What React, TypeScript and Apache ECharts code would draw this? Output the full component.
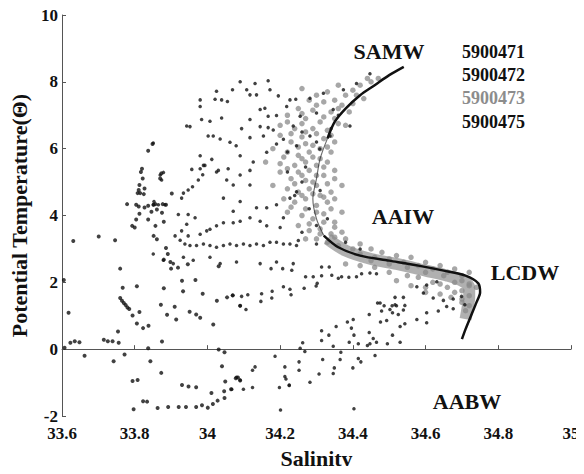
import React, { useEffect, useRef } from "react";
import * as echarts from "echarts";

const xTicks = { min: 33.6, max: 35, interval: 0.2 };
const yTicks = { min: -2, max: 10, interval: 2 };

const floatIds = ["5900471", "5900472", "5900473", "5900475"];
const floatColors = ["#111111", "#111111", "#8c8c8c", "#111111"];

const waterMasses = ["SAMW", "AAIW", "LCDW", "AABW"];

// 5900471: scattered profiles on the fresh (left) side and deep branch
const pts471: [number, number][] = [
  [33.76, 2.41], [33.767, 1.84], [33.806, 1.88], [33.76, 1.53], [33.765, 1.45], [33.77, 1.38],
  [33.775, 1.32], [33.78, 1.25], [33.785, 1.2], [33.794, 1.01], [33.813, 1.11], [33.806, 0.77],
  [33.823, 0.63], [33.838, 0.7], [33.88, 1.82], [33.933, 1.73], [33.872, 1.33], [33.91, 1.27],
  [33.914, 0.89], [33.889, 1.03], [33.951, 1.12], [33.969, 1.04], [33.98, 0.94], [33.987, 1.66],
  [34.026, 1.45], [34.054, 1.55], [34.07, 1.61], [34.09, 1.3], [34.016, 0.74], [33.967, 2.07],
  [33.93, 2.05], [33.919, 2.44], [33.9, 2.41], [33.946, 2.54], [34.031, 2.48], [33.618, 1.09],
  [33.605, 2.07], [33.754, 0.53], [33.715, 0.28], [33.726, 0.24], [33.739, 0.24], [33.756, 0.19],
  [33.623, 0.19], [33.635, 0.24], [33.648, 0.21], [33.607, 0.04], [33.662, -0.2], [33.772, -0.16],
  [33.742, -0.36], [33.837, 0.03], [33.843, -0.36], [33.875, 0.23], [33.873, -0.71], [33.794, -0.95],
  [33.808, -0.92], [33.823, -1.56], [33.834, -1.57], [33.797, -1.8], [33.863, -1.76], [33.892, -1.73],
  [33.921, -1.73], [33.941, -1.73], [33.969, -1.73], [33.985, -1.68], [34.001, -1.75], [34.015, -1.64],
  [34.028, -1.54], [34.011, -1.31], [34.047, -1.46], [34.046, -1.26], [34.065, -1.2], [33.93, -1.07],
  [33.948, -1.12], [33.969, -1.14], [34.049, -0.97], [34.084, -0.85], [34.031, -0.01], [34.047, -0.09],
  [34.04, -0.51], [34.078, -0.87], [34.09, -0.94], [33.631, 3.24], [33.701, 3.37], [33.746, 3.26],
  [33.849, 6.14], [33.837, 5.94], [33.82, 5.4], [33.817, 5.3], [33.873, 5.26], [33.87, 5.11],
  [33.822, 5.11], [33.813, 4.91], [33.811, 4.76], [33.827, 4.81], [33.815, 4.67], [33.825, 4.64],
  [33.808, 4.67], [33.779, 4.34], [33.804, 4.32], [33.811, 4.27], [33.827, 4.24], [33.837, 4.29],
  [33.852, 4.32], [33.857, 4.34], [33.877, 4.34], [33.886, 4.32], [33.813, 4.05], [33.804, 3.88],
  [33.793, 3.69], [33.8, 3.64], [33.837, 3.88], [33.846, 4.11], [33.861, 4.18], [33.875, 4.08],
  [33.88, 3.81], [33.902, 4.66], [33.857, 3.69], [33.852, 3.39], [33.861, 3.29], [33.886, 3.03],
  [33.891, 2.85], [33.88, 2.68], [33.898, 2.61],
];

// 5900472: core of the T-S curve (upper limb, middle, deep limb)
const core472Upper: [number, number][] = [
  [34.54, 8.45], [34.5, 8.2], [34.46, 7.9], [34.42, 7.6], [34.38, 7.2], [34.35, 6.8], [34.33, 6.3],
];
const core472Middle: [number, number][] = [
  [34.33, 6.3], [34.31, 5.7], [34.3, 5.1], [34.29, 4.5], [34.3, 3.9], [34.32, 3.4],
];
const core472Lower: [number, number][] = [
  [34.32, 3.4], [34.36, 3.05], [34.42, 2.8], [34.5, 2.65], [34.58, 2.5], [34.65, 2.35],
  [34.71, 2.2], [34.745, 1.97], [34.75, 1.7], [34.74, 1.4], [34.725, 1.0], [34.71, 0.6], [34.7, 0.3],
];
const band473: [number, number][] = [
  [34.33, 3.3], [34.38, 2.95], [34.45, 2.7], [34.52, 2.55], [34.6, 2.35], [34.66, 2.2],
  [34.7, 2.05], [34.72, 1.85], [34.72, 1.55], [34.715, 1.2], [34.71, 0.9],
];

// 5900473: grey cloud of the upper water column
const pts473: [number, number][] = [
  [34.36, 7.9], [34.4, 7.75], [34.42, 7.9], [34.45, 8.0], [34.38, 7.6], [34.33, 7.7], [34.3, 7.6],
  [34.26, 7.8], [34.28, 7.45], [34.25, 7.2], [34.3, 7.3], [34.34, 7.1], [34.37, 7.3], [34.4, 7.35],
  [34.22, 7.0], [34.27, 6.9], [34.31, 6.8], [34.35, 6.9], [34.2, 6.7], [34.24, 6.6], [34.29, 6.6],
  [34.33, 6.55], [34.38, 6.7], [34.2, 6.4], [34.23, 6.2], [34.26, 6.35], [34.29, 6.1], [34.32, 6.3],
  [34.35, 6.2], [34.18, 6.0], [34.22, 5.9], [34.25, 5.8], [34.28, 5.9], [34.31, 5.7], [34.34, 5.9],
  [34.16, 5.6], [34.2, 5.55], [34.24, 5.5], [34.27, 5.6], [34.3, 5.5], [34.33, 5.6], [34.2, 5.3],
  [34.23, 5.1], [34.26, 5.2], [34.29, 5.0], [34.32, 5.2], [34.35, 5.1], [34.18, 4.9], [34.22, 4.8],
  [34.25, 4.7], [34.28, 4.8], [34.31, 4.6], [34.34, 4.7], [34.37, 4.9], [34.21, 4.5], [34.24, 4.4],
  [34.27, 4.5], [34.3, 4.3], [34.33, 4.4], [34.22, 4.1], [34.26, 4.0], [34.29, 3.9], [34.32, 4.05],
  [34.35, 3.8], [34.25, 3.7], [34.28, 3.55], [34.31, 3.6], [34.34, 3.45], [34.37, 3.5], [34.3, 3.3],
  [34.33, 3.2], [34.36, 3.1], [34.4, 3.0], [34.27, 3.3], [34.42, 2.85], [34.46, 2.75], [34.5, 2.7],
  [34.54, 2.6], [34.58, 2.5], [34.62, 2.4], [34.66, 2.3], [34.7, 2.2], [34.45, 2.65], [34.5, 2.55],
  [34.55, 2.45], [34.6, 2.3], [34.65, 2.2], [34.7, 2.05], [34.72, 1.9], [34.7, 1.75], [34.72, 1.6],
  [34.7, 1.5], [34.68, 1.7], [34.66, 1.85], [34.62, 2.0], [34.58, 2.15],
  [34.44, 8.1], [34.47, 8.1], [34.41, 7.6], [34.43, 7.5], [34.35, 7.45], [34.32, 7.4], [34.36, 7.2],
  [34.39, 7.1], [34.29, 7.15], [34.26, 7.05], [34.32, 6.95], [34.36, 6.75], [34.26, 6.75], [34.22, 6.8],
  [34.3, 6.45], [34.34, 6.4], [34.27, 6.5], [34.23, 6.45], [34.25, 6.05], [34.27, 6.15], [34.31, 6.0],
  [34.33, 6.05], [34.21, 5.75], [34.26, 5.7], [34.29, 5.75], [34.32, 5.45], [34.35, 5.35], [34.22, 5.4],
  [34.25, 5.3], [34.28, 5.35], [34.3, 5.2], [34.24, 4.95], [34.27, 5.05], [34.3, 4.9], [34.33, 4.95],
  [34.26, 4.6], [34.29, 4.65], [34.32, 4.55], [34.35, 4.5], [34.23, 4.25], [34.27, 4.2], [34.3, 4.1],
  [34.34, 4.2], [34.37, 4.1], [34.28, 3.75], [34.32, 3.8], [34.35, 3.65], [34.38, 3.3], [34.35, 3.35],
  [34.31, 3.45], [34.42, 3.15], [34.45, 3.0], [34.48, 2.9], [34.52, 2.8], [34.56, 2.75], [34.6, 2.6],
  [34.64, 2.5], [34.68, 2.4], [34.72, 2.3], [34.6, 1.85], [34.64, 1.95], [34.68, 2.0], [34.72, 1.95],
  [34.74, 1.85], [34.64, 1.65], [34.67, 1.55], [34.7, 1.4], [34.72, 1.3], [34.71, 1.15], [34.6, 1.7],
  [34.56, 1.9], [34.52, 2.05], [34.55, 2.2], [34.5, 2.3], [34.46, 2.45], [34.42, 2.5], [34.38, 2.55],
];

// 5900475: intermediate layer near 3 degrees, upper cloud and the deep spreading branch
const pts475: [number, number][] = [
  [33.911, 3.39], [33.925, 3.26], [33.938, 3.15], [33.952, 3.1], [33.97, 3.1], [33.989, 3.15],
  [34.007, 3.1], [34.025, 3.05], [34.044, 3.1], [34.062, 3.15], [34.08, 3.1], [34.099, 3.15],
  [34.117, 3.1], [34.135, 3.15], [34.154, 3.1], [34.172, 3.2], [34.19, 3.2], [34.209, 3.15],
  [34.227, 3.15], [34.245, 3.1], [34.007, 3.59], [34.025, 3.69], [34.044, 3.78], [34.071, 3.78],
  [34.09, 3.83], [34.117, 3.93], [34.145, 3.83], [34.163, 3.69], [34.2, 3.64], [34.209, 3.93],
  [34.071, 4.13], [34.044, 4.52], [34.09, 4.42], [34.135, 4.23], [34.163, 4.23], [34.19, 4.32],
  [34.227, 4.52], [34.245, 4.71], [34.117, 4.91], [34.071, 4.91], [34.09, 5.21], [34.025, 5.3],
  [34.053, 5.06], [33.851, 2.85], [33.879, 2.66], [33.906, 2.56], [33.934, 2.75], [33.961, 2.66],
  [34.007, 2.75], [34.035, 2.56], [34.08, 2.61], [34.145, 2.56], [34.19, 2.61], [34.236, 2.56],
  [33.87, 5.21], [33.874, 5.06], [33.934, 4.67], [33.947, 4.76], [33.959, 4.86], [33.929, 4.52],
  [33.98, 5.4], [33.987, 5.22], [33.993, 5.5], [33.957, 5.38], [33.975, 5.06], [33.851, 4.32],
  [33.865, 4.32], [33.883, 4.32], [33.853, 4.42], [33.92, 4.03], [33.947, 4.03], [33.966, 3.93],
  [33.943, 3.74], [33.929, 3.54], [33.947, 3.39], [33.98, 3.44], [33.998, 3.54],
  [34.09, 8.0], [34.131, 7.95], [34.167, 8.03], [34.172, 7.76], [34.195, 7.58], [34.069, 7.76],
  [34.108, 7.76], [34.117, 7.61], [34.135, 7.61], [34.025, 7.72], [33.98, 7.46], [34.021, 7.48],
  [34.039, 7.46], [34.055, 7.41], [33.98, 7.26], [34.145, 7.17], [34.158, 7.21], [34.167, 6.97],
  [34.19, 6.99], [34.218, 7.26], [34.227, 7.46], [34.243, 7.48], [34.039, 6.92], [33.984, 6.87],
  [33.952, 6.66], [33.943, 6.68], [34.007, 6.82], [34.094, 6.6], [34.117, 6.87], [34.145, 6.66],
  [34.167, 6.63], [34.181, 6.56], [34.002, 6.38], [34.016, 6.38], [34.035, 6.29], [34.062, 6.19],
  [34.117, 6.33], [34.154, 6.38], [33.851, 6.17], [33.879, 5.29], [33.98, 5.79], [34.012, 5.68],
  [33.989, 5.5], [34.03, 5.35], [34.057, 5.4], [34.079, 6.09], [34.09, 5.79], [34.126, 5.6],
  [34.117, 5.35], [34.163, 5.89], [34.19, 6.14], [34.209, 6.28], [34.236, 6.68],
  [34.282, 7.51], [34.319, 7.66], [34.374, 7.76], [34.41, 7.95], [34.447, 8.24], [34.255, 6.97],
  [34.3, 7.07], [34.346, 7.17], [34.392, 6.68], [34.337, 6.38], [34.282, 6.38], [34.245, 6.09],
  [34.309, 5.99], [34.22, 5.3], [34.26, 5.0], [34.24, 4.6], [34.28, 4.2], [34.3, 3.7], [34.26, 3.5],
  [34.3, 6.2], [34.26, 6.5], [34.34, 6.6], [34.36, 7.0], [34.22, 5.9], [34.27, 5.45], [34.31, 4.75],
  [34.33, 3.9], [34.38, 3.2], [34.42, 3.0], [34.3, 3.15], [34.25, 3.25],
  [34.069, 1.61], [34.094, 1.58], [34.111, 1.63], [34.09, 1.3], [34.106, 1.19], [34.149, 1.66],
  [34.147, 1.43], [34.178, 1.73], [34.177, 1.53], [34.209, 1.87], [34.227, 1.79], [34.23, 1.63],
  [34.266, 1.82], [34.27, 2.17], [34.291, 2.17], [34.302, 1.97], [34.299, 1.89], [34.314, 2.2],
  [34.314, 2.46], [34.335, 2.46], [34.342, 2.21], [34.36, 2.12], [34.369, 2.17], [34.389, 2.15],
  [34.41, 2.17], [34.424, 2.26], [34.447, 2.28], [34.465, 2.26], [34.207, 2.41], [34.232, 2.36],
  [34.175, 2.41], [34.539, 1.55], [34.516, 1.55], [34.508, 1.3], [34.52, 1.3], [34.543, 1.31],
  [34.468, 1.38], [34.486, 1.3], [34.509, 1.09], [34.525, 1.04], [34.539, 1.17], [34.445, 1.04],
  [34.479, 1.14], [34.493, 0.86], [34.476, 0.81], [34.543, 0.76], [34.53, 0.68], [34.401, 0.89],
  [34.385, 0.81], [34.396, 0.63], [34.354, 0.68], [34.314, 0.55], [34.334, 0.42], [34.314, 0.26],
  [34.403, 0.42], [34.445, 0.5], [34.456, 0.32], [34.447, 0.16], [34.44, 0.11], [34.509, 0.42],
  [34.53, 0.21], [34.495, 0.16], [34.465, 0.21], [34.39, 0.21], [34.415, 0.16], [34.346, 0.09],
  [34.367, -0.09], [34.365, -0.31], [34.415, -0.28], [34.422, -0.38], [34.461, -0.19], [34.4, -0.56],
  [34.349, -0.56], [34.346, -0.73], [34.307, -0.74], [34.317, -0.31], [34.262, 0.19], [34.255, 0.03],
  [34.268, -0.07], [34.252, -0.38], [34.252, -0.63], [34.186, -0.21], [34.213, -0.53], [34.213, -0.82],
  [34.216, -0.89], [34.225, -1.07], [34.282, -0.99], [34.124, -0.63], [34.131, -0.53], [34.08, -0.84],
  [34.09, -0.92], [34.067, -1.2], [34.099, -1.2], [34.124, -1.15], [34.198, -1.15], [34.225, -1.09],
  [34.201, -1.82], [34.403, -1.78], [34.475, 1.38], [34.516, 1.33], [34.502, 1.19], [34.576, 1.87],
  [34.603, 1.92], [34.631, 2.02], [34.594, 1.68], [34.621, 1.53], [34.649, 1.46], [34.676, 1.5],
  [34.699, 1.58], [34.708, 1.33], [34.603, 1.09], [34.635, 1.14], [34.658, 1.28], [34.676, 1.21],
  [34.576, 0.89], [34.603, 0.79],
];

const labelSpots: [number, number][] = [
  [389, 51],
  [403, 216],
  [525, 272],
  [467, 401],
];
const legendTop = [52, 75, 98, 122];

export default function App() {
  const ref = useRef<HTMLDivElement>(null);
  useEffect(() => {
    if (!ref.current) return;
    const chart = echarts.init(ref.current, null, { renderer: "svg" });
    const serif = "'Liberation Serif', 'Times New Roman', serif";
    const graphics: any[] = [];
    waterMasses.forEach((w, i) => {
      graphics.push({
        type: "text",
        x: labelSpots[i][0],
        y: labelSpots[i][1],
        style: {
          text: w,
          font: `bold 22px ${serif}`,
          fill: "#111",
          align: "center",
          verticalAlign: "middle",
        },
      });
    });
    floatIds.forEach((id, i) => {
      graphics.push({
        type: "text",
        x: 462,
        y: legendTop[i],
        style: {
          text: id,
          font: `bold 18px ${serif}`,
          fill: floatColors[i],
          align: "left",
          verticalAlign: "middle",
        },
      });
    });
    const axisLine = { show: true, lineStyle: { color: "#555", width: 1 } };
    const coreLine = (data: [number, number][], width: number, opacity: number) => ({
      name: floatIds[1],
      type: "line",
      data,
      showSymbol: false,
      smooth: 0.3,
      lineStyle: { color: floatColors[1], width, opacity },
      z: 3,
    });
    chart.setOption({
      animation: false,
      backgroundColor: "#fff",
      grid: { left: 62, right: 13, top: 15, bottom: 51 },
      xAxis: {
        type: "value",
        min: xTicks.min,
        max: xTicks.max,
        interval: xTicks.interval,
        name: "Salinity",
        nameLocation: "middle",
        nameGap: 31,
        nameTextStyle: { fontFamily: serif, fontWeight: "bold", fontSize: 22, color: "#111" },
        axisLine,
        axisTick: { show: true, inside: true, length: 4, lineStyle: { color: "#555" } },
        splitLine: { show: false },
        axisLabel: {
          fontFamily: serif,
          fontWeight: "bold",
          fontSize: 17,
          lineHeight: 15,
          color: "#111",
          margin: 10,
        },
      },
      yAxis: {
        type: "value",
        min: yTicks.min,
        max: yTicks.max,
        interval: yTicks.interval,
        name: "Potential Temperature(Θ)",
        nameLocation: "middle",
        nameGap: 31,
        nameTextStyle: { fontFamily: serif, fontWeight: "bold", fontSize: 22, color: "#111" },
        axisLine,
        axisTick: { show: true, inside: true, length: 4, lineStyle: { color: "#555" } },
        splitLine: { show: false },
        axisLabel: {
          fontFamily: serif,
          fontWeight: "bold",
          fontSize: 17,
          lineHeight: 14,
          color: "#111",
          margin: 4,
        },
      },
      graphic: graphics,
      series: [
        {
          name: floatIds[2] + " band",
          type: "line",
          data: band473,
          showSymbol: false,
          smooth: 0.3,
          lineStyle: { color: "#8f8f8f", width: 12, opacity: 0.7 },
          z: 1,
        },
        {
          name: floatIds[2],
          type: "scatter",
          data: pts473,
          symbolSize: 5.5,
          itemStyle: { color: "#8a8a8a", opacity: 0.75 },
          z: 1,
        },
        {
          name: floatIds[0],
          type: "scatter",
          data: pts471,
          symbolSize: 4,
          itemStyle: { color: floatColors[0] },
        },
        {
          name: floatIds[3],
          type: "scatter",
          data: pts475,
          symbolSize: 3.5,
          itemStyle: { color: floatColors[3] },
        },
        coreLine(core472Upper, 2.5, 1),
        coreLine(core472Middle, 1.2, 0.6),
        coreLine(core472Lower, 2.5, 1),
      ],
    });
    return () => chart.dispose();
  }, []);
  return <div ref={ref} style={{ width: 584, height: 474, margin: -8 }} />;
}
